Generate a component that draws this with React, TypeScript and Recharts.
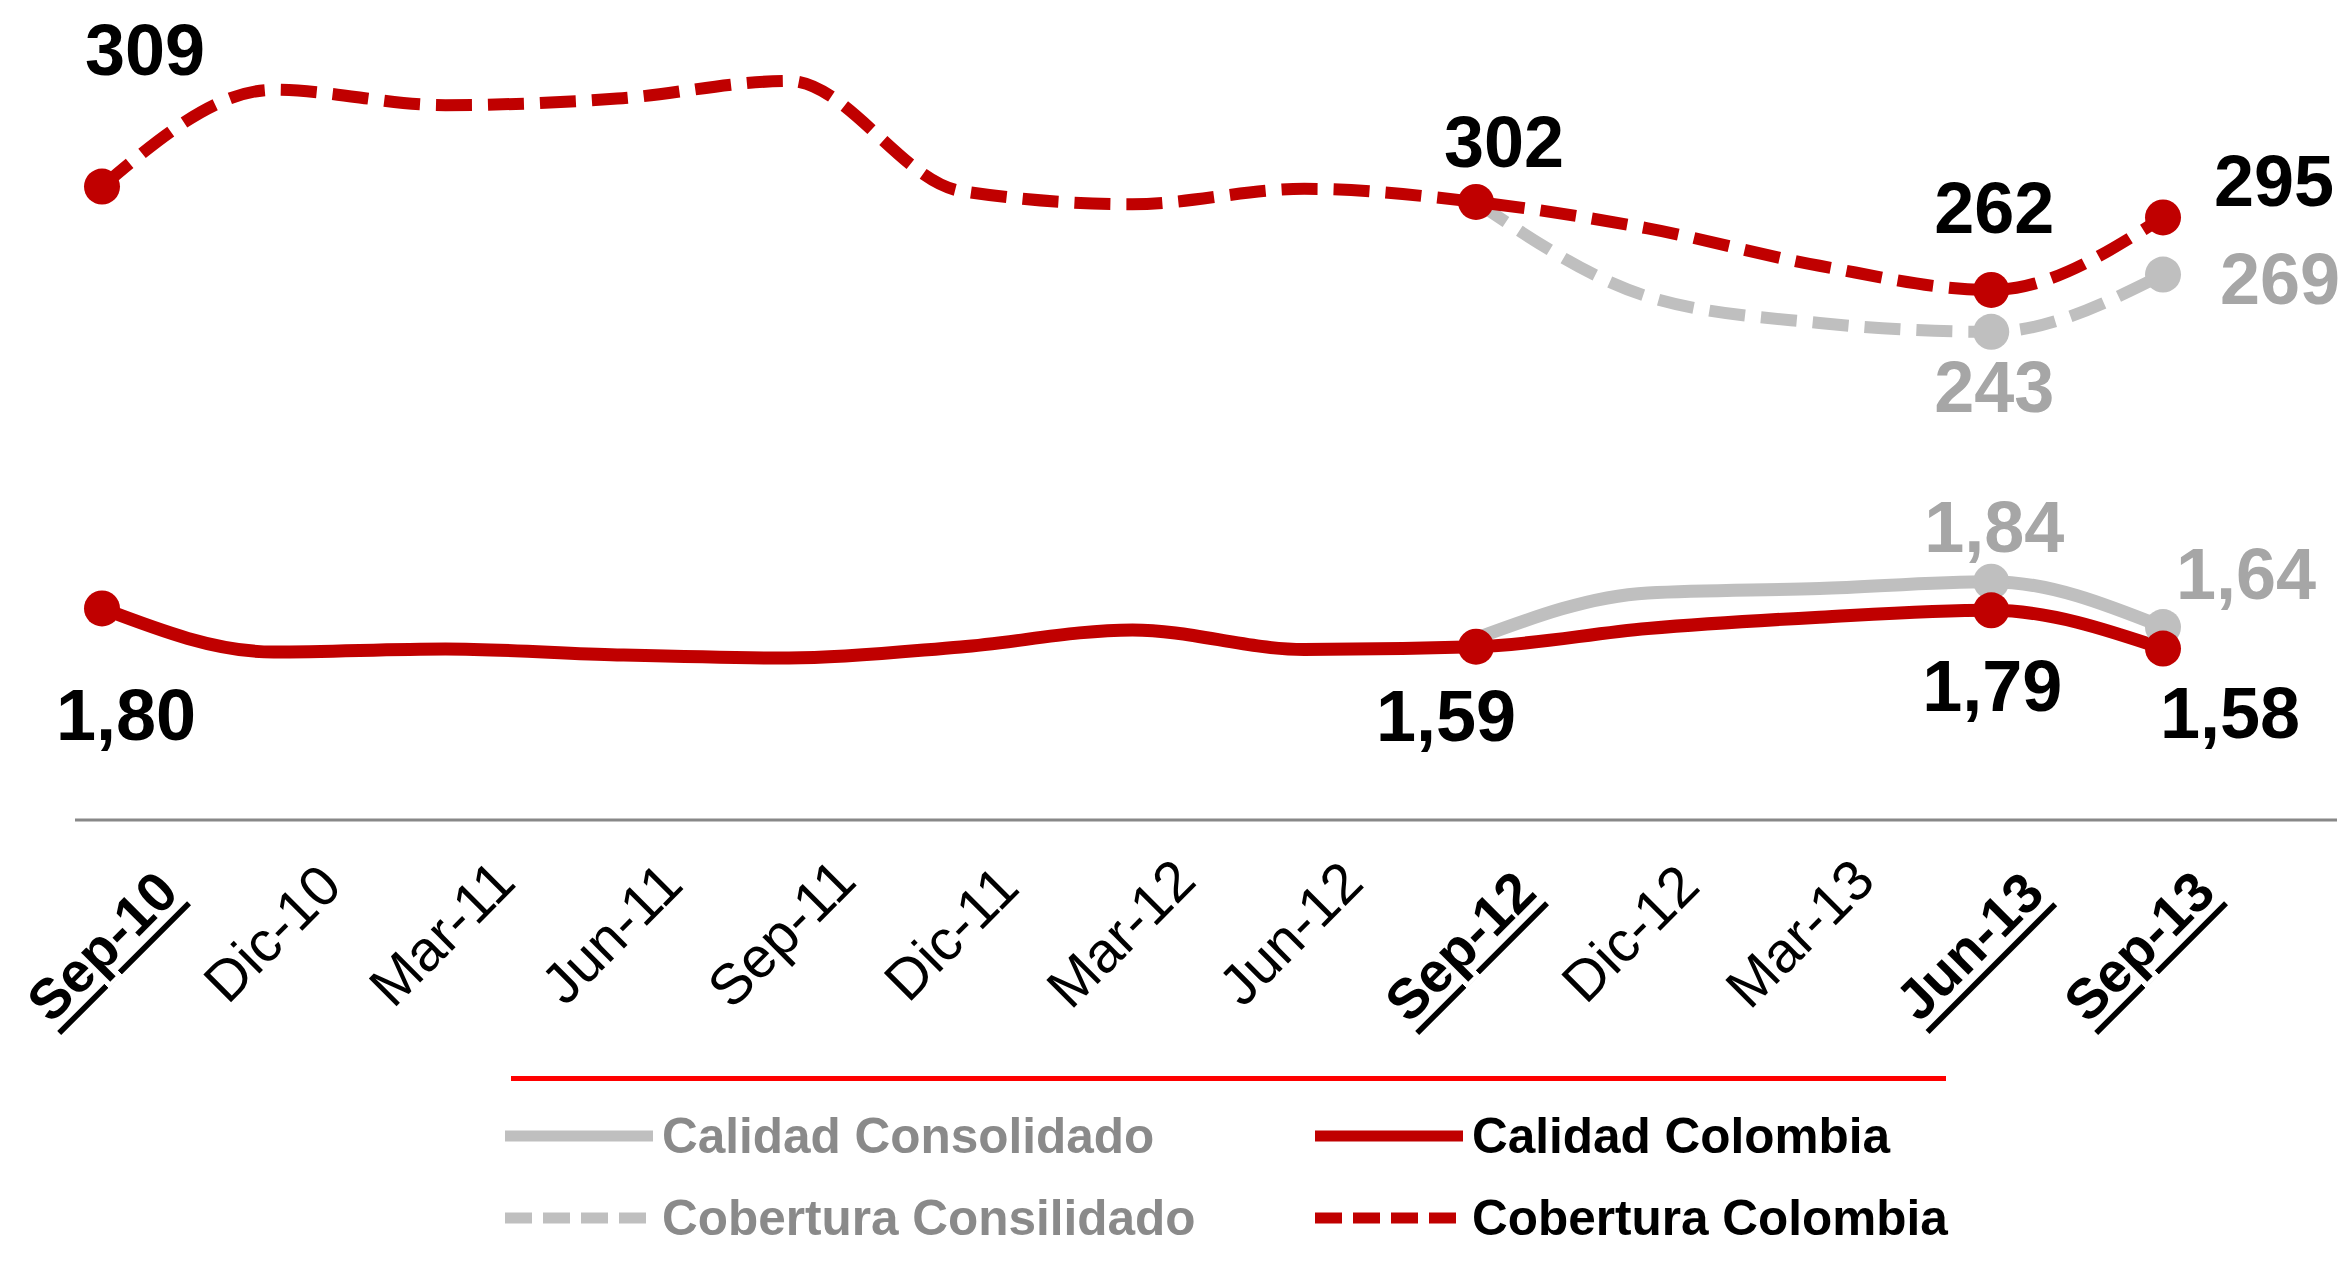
import { LineChart, Line, XAxis, YAxis, LabelList } from "recharts";

const periods = ["Sep-10", "Dic-10", "Mar-11", "Jun-11", "Sep-11", "Dic-11", "Mar-12", "Jun-12", "Sep-12", "Dic-12", "Mar-13", "Jun-13", "Sep-13"];
const highlighted = ["Sep-10", "Sep-12", "Jun-13", "Sep-13"];

const coberturaColombia = [309, 353, 346, 349, 357, 307, 301, 308, 302, 290, 273, 262, 295];
const coberturaConsolidado = [null, null, null, null, null, null, null, null, 302, 259, 247, 243, 269];
const calidadColombia = [1.8, 1.561, 1.578, 1.545, 1.528, 1.589, 1.682, 1.575, 1.59, 1.69, 1.752, 1.79, 1.58];
const calidadConsolidado = [null, null, null, null, null, null, null, null, 1.59, 1.79, 1.81, 1.84, 1.64];

const markedColombia = [0, 8, 11, 12];
const markedConsolidado = [11, 12];

const data = periods.map((p, i) => ({
  period: p,
  cobCol: coberturaColombia[i],
  cobCons: coberturaConsolidado[i],
  calCol: calidadColombia[i],
  calCons: calidadConsolidado[i],
}));

const RED = "#c00000";
const GREY = "#bfbfbf";
const FONT = "'Liberation Sans', Arial, sans-serif";

// label offsets from the point, per index
const offCobCol: Record<number, [number, number]> = { 0: [43, -137], 8: [28, -60], 11: [3, -82], 12: [111, -36] };
const offCobCons: Record<number, [number, number]> = { 11: [3, 55], 12: [117, 4] };
const offCalCol: Record<number, [number, number]> = { 0: [24, 107], 8: [-30, 69], 11: [1, 76], 12: [67, 64] };
const offCalCons: Record<number, [number, number]> = { 11: [3, -55], 12: [83, -53] };

const fmtInt = (v: number) => String(Math.round(v));
const fmtDec = (v: number) => v.toFixed(2).replace(".", ",");

const markerDot = (shown: number[], color: string) => (props: any) => {
  const { cx, cy, index } = props;
  if (!shown.includes(index) || cx == null || cy == null) return <g key={`d-${index}`} />;
  return <circle key={`d-${index}`} cx={cx} cy={cy} r={18} fill={color} />;
};

const valueLabel = (offsets: Record<number, [number, number]>, color: string, fmt: (v: number) => string) => (props: any) => {
  const { x, y, value, index } = props;
  const off = offsets[index];
  if (!off || value == null) return null;
  return (
    <text x={x + off[0]} y={y + off[1]} textAnchor="middle" dominantBaseline="central" fontSize={72} fontWeight="bold" fill={color} fontFamily={FONT}>
      {fmt(value)}
    </text>
  );
};

const PeriodTick = (props: any) => {
  const { x, y, payload, index } = props;
  const bold = highlighted.includes(payload.value);
  const cx = x - 2 * index;
  const cy = y + (bold ? 126 : 113);
  return (
    <text
      x={cx}
      y={cy}
      transform={`rotate(-45 ${cx} ${cy})`}
      textAnchor="middle"
      dominantBaseline="central"
      fontSize={bold ? 56 : 57}
      fontWeight={bold ? "bold" : "normal"}
      fill="#000"
      fontFamily={FONT}
      style={bold ? { textDecoration: "underline" } : undefined}
    >
      {payload.value}
    </text>
  );
};

const Swatch = ({ color, dashed }: { color: string; dashed?: boolean }) => (
  <svg width={148} height={16} style={{ position: "absolute", left: 0, top: -8 }}>
    <line x1={0} y1={8} x2={148} y2={8} stroke={color} strokeWidth={11} strokeDasharray={dashed ? "27 11" : undefined} />
  </svg>
);

const legendItems = [
  { label: "Calidad Consolidado", color: GREY, text: "#8a8a8a", dashed: false, left: 505, top: 1136 },
  { label: "Calidad Colombia", color: RED, text: "#000", dashed: false, left: 1315, top: 1136 },
  { label: "Cobertura Consilidado", color: GREY, text: "#8a8a8a", dashed: true, left: 505, top: 1218 },
  { label: "Cobertura Colombia", color: RED, text: "#000", dashed: true, left: 1315, top: 1218 },
];

export default function App() {
  return (
    <div style={{ position: "relative", width: 2344, height: 1272, background: "#fff", fontFamily: FONT }}>
      <style>{"body{margin:0}"}</style>
      <LineChart width={2344} height={1060} data={data} margin={{ top: 0, right: 7, bottom: 0, left: 75 }}>
        <XAxis
          dataKey="period"
          height={240}
          interval={0}
          padding={{ left: 27, right: 174 }}
          axisLine={{ stroke: "#888", strokeWidth: 3 }}
          tickLine={false}
          tickSize={0}
          tickMargin={0}
          tick={PeriodTick}
        />
        <YAxis yAxisId="cob" hide domain={[21.1, 393.8]} allowDataOverflow />
        <YAxis yAxisId="calCol" hide domain={[0.6401, 5.1357]} allowDataOverflow />
        <YAxis yAxisId="calCons" hide domain={[0.7899, 4.4022]} allowDataOverflow />

        <Line yAxisId="cob" type="monotone" dataKey="cobCons" stroke={GREY} strokeWidth={12} strokeDasharray="36 16" dot={markerDot(markedConsolidado, GREY)} activeDot={false} isAnimationActive={false}>
          <LabelList dataKey="cobCons" content={valueLabel(offCobCons, "#a6a6a6", fmtInt)} />
        </Line>
        <Line yAxisId="cob" type="monotone" dataKey="cobCol" stroke={RED} strokeWidth={12} strokeDasharray="36 16" dot={markerDot(markedColombia, RED)} activeDot={false} isAnimationActive={false}>
          <LabelList dataKey="cobCol" content={valueLabel(offCobCol, "#000", fmtInt)} />
        </Line>
        <Line yAxisId="calCons" type="monotone" dataKey="calCons" stroke={GREY} strokeWidth={13} dot={markerDot(markedConsolidado, GREY)} activeDot={false} isAnimationActive={false}>
          <LabelList dataKey="calCons" content={valueLabel(offCalCons, "#a6a6a6", fmtDec)} />
        </Line>
        <Line yAxisId="calCol" type="monotone" dataKey="calCol" stroke={RED} strokeWidth={13} dot={markerDot(markedColombia, RED)} activeDot={false} isAnimationActive={false}>
          <LabelList dataKey="calCol" content={valueLabel(offCalCol, "#000", fmtDec)} />
        </Line>
      </LineChart>

      <div style={{ position: "absolute", left: 511, top: 1076, width: 1435, height: 5, background: "#ff0000" }} />
      {legendItems.map((it) => (
        <div key={it.label} style={{ position: "absolute", left: it.left, top: it.top, height: 0 }}>
          <Swatch color={it.color} dashed={it.dashed} />
          <span
            style={{
              position: "absolute",
              left: 157,
              top: -30,
              lineHeight: "60px",
              fontSize: 49.5,
              fontWeight: "bold",
              color: it.text,
              whiteSpace: "nowrap",
            }}
          >
            {it.label}
          </span>
        </div>
      ))}
    </div>
  );
}
